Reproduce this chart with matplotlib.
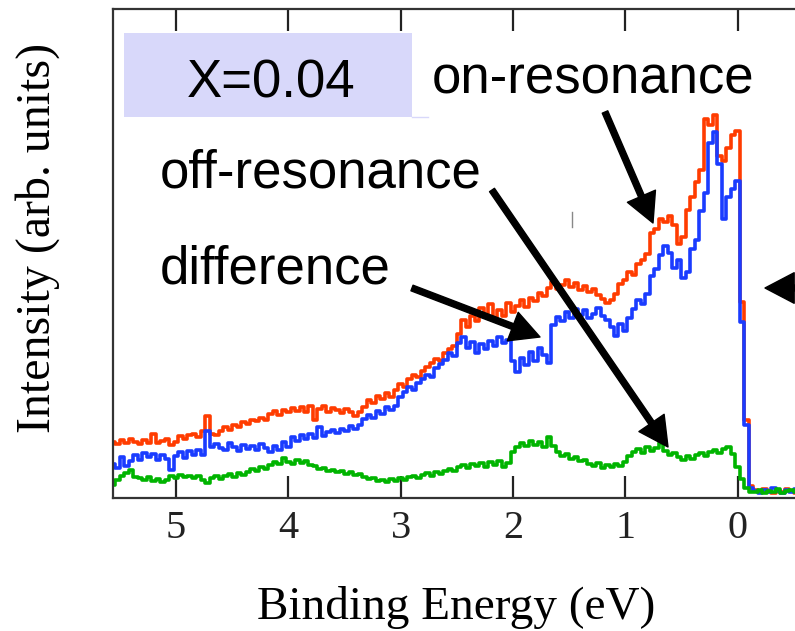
import numpy as np
import matplotlib.pyplot as plt
from matplotlib.patches import Rectangle
from matplotlib.lines import Line2D

plt.switch_backend('agg')

W, H = 795, 631

# binding energy grid (eV), high to low
energy = np.linspace(5.56, -0.56, 154)

# on-resonance spectrum (arb. units)
on_res = [
    11.5, 11.0, 11.8, 11.2, 12.0, 11.4, 11.0, 11.8, 11.3, 13.0,
    11.2, 11.6, 12.0, 10.8, 11.5, 12.6, 12.0, 12.8, 13.0, 12.4,
    13.6, 16.8, 13.0, 12.8, 13.8, 14.5, 14.0, 15.0, 14.6, 15.6,
    15.2, 16.0, 15.8, 16.4, 16.0, 17.2, 17.8, 17.0, 18.0, 17.6,
    18.4, 17.8, 18.6, 17.5, 18.8, 16.0, 18.2, 18.8, 17.6, 18.4,
    18.0, 17.4, 18.2, 17.6, 16.8, 17.5, 18.6, 20.0, 19.5, 20.8,
    20.2, 21.5, 20.6, 22.0, 23.4, 22.8, 24.4, 25.2, 24.8, 26.0,
    26.8, 27.6, 28.4, 28.0, 29.6, 30.4, 31.0, 33.6, 36.4, 35.0,
    37.2, 36.2, 38.8, 37.0, 39.6, 36.8, 38.4, 37.2, 39.8, 38.0,
    39.2, 40.4, 39.0, 41.0, 40.2, 42.0, 41.4, 43.0, 44.2, 42.8,
    43.6, 44.6, 43.2, 44.0, 42.6, 43.4, 42.2, 42.8, 41.6, 40.6,
    39.8, 40.4, 41.8, 43.8, 44.6, 46.2, 45.6, 47.8, 48.6, 50.0,
    54.2, 55.0, 57.0, 56.4, 57.6, 55.8, 52.0, 53.4, 58.8, 61.6,
    64.6, 67.0, 77.6, 76.2, 78.4, 70.0, 69.0, 71.6, 74.2, 75.0,
    40.0, 16.0, 2.4, 1.6, 1.2, 1.8, 1.4, 1.0, 1.6, 1.2,
    1.8, 1.4, 1.0, 1.5,
]

# off-resonance spectrum
off_res = [
    7.0, 6.2, 8.4, 6.6, 7.6, 8.8, 7.8, 9.2, 8.4, 9.0,
    7.8, 8.8, 8.0, 5.8, 8.6, 9.4, 8.2, 9.6, 8.8, 9.8,
    8.8, 13.6, 10.4, 11.0, 10.2, 9.8, 11.2, 10.4, 9.6, 10.8,
    10.0, 10.6, 9.8, 11.0, 10.2, 9.4, 10.6, 9.8, 11.4, 10.4,
    12.4, 11.6, 12.8, 12.0, 13.0, 12.2, 14.6, 12.6, 13.4, 14.0,
    13.2, 14.2, 13.6, 14.8, 14.2, 15.0, 16.2, 17.0, 16.4, 17.8,
    17.2, 18.6, 18.0, 18.8, 20.6, 21.6, 22.6, 22.0, 23.6, 24.4,
    25.2, 24.8, 26.6, 27.4, 28.2, 29.6, 29.0, 31.6, 33.0, 30.6,
    31.8, 29.6, 31.4, 30.4, 32.2, 31.0, 33.0, 31.6, 32.4, 28.0,
    25.8, 28.6, 27.2, 29.8, 28.0, 30.6, 29.2, 27.6, 35.4, 37.0,
    36.2, 38.0, 36.8, 38.6, 37.4, 38.4, 36.8, 37.6, 38.8, 37.2,
    36.4, 35.0, 33.2, 35.6, 34.2, 36.8, 38.6, 40.4, 39.6, 41.8,
    45.4, 46.8, 49.6, 51.6, 50.2, 47.0, 48.6, 45.0, 46.2, 51.0,
    52.8, 58.6, 62.4, 72.6, 74.8, 68.4, 57.0, 61.6, 63.2, 64.8,
    36.0, 15.0, 2.0, 1.4, 1.0, 1.6, 1.2, 2.0, 1.4, 1.0,
    1.6, 1.2, 1.8, 1.3,
]

# difference spectrum
diff = [
    2.6, 3.6, 4.4, 5.2, 5.8, 4.2, 4.0, 3.6, 4.2, 3.4,
    3.8, 3.2, 3.6, 4.4, 4.0, 4.8, 4.2, 4.4, 4.0, 4.6,
    3.6, 3.0, 4.0, 4.6, 3.8, 4.4, 5.0, 4.2, 5.2, 4.8,
    5.4, 6.0, 5.6, 6.4, 6.0, 6.8, 7.4, 7.0, 8.2, 7.4,
    7.0, 7.8, 7.2, 7.6, 6.8, 6.6, 6.0, 6.2, 5.6, 5.8,
    5.4, 5.6, 5.0, 5.4, 4.8, 5.0, 4.2, 3.8, 4.0, 3.4,
    3.6, 3.2, 3.8, 3.4, 4.0, 3.6, 4.2, 4.6, 4.0, 4.8,
    5.2, 4.6, 5.4, 5.0, 5.6, 6.0, 5.6, 6.4, 6.8, 6.2,
    7.0, 6.6, 7.2, 6.4, 7.4, 6.8, 7.6, 6.4, 7.2, 9.4,
    10.4, 11.2, 10.6, 11.6, 10.8, 11.4, 10.4, 12.4, 10.6, 9.4,
    8.6, 9.0, 8.0, 8.4, 7.6, 7.8, 7.0, 6.6, 7.2, 6.2,
    6.8, 6.4, 7.0, 6.6, 7.4, 8.6, 9.4, 10.0, 9.2, 10.4,
    9.6, 10.2, 11.2, 9.6, 8.8, 9.2, 8.4, 7.8, 8.6, 8.0,
    8.8, 9.2, 8.6, 9.4, 9.8, 9.2, 10.0, 10.4, 9.0, 6.4,
    3.8, 2.0, 1.2, 1.2, 1.6, 1.0, 1.4, 1.2, 1.8, 1.0,
    1.4, 1.6, 1.2, 1.0,
]

ticks = [5, 4, 3, 2, 1, 0]
tick_labels = ['5', '4', '3', '2', '1', '0']


def px(x, y):
    """pixel position (from top-left) -> figure fraction"""
    return x / W, 1 - y / H


SANS = 'Liberation Sans'
SERIF = 'Liberation Serif'

fig = plt.figure(figsize=(W / 100, H / 100), dpi=100)
ax = fig.add_axes([112.5 / W, (H - 498) / H, (800 - 112.5) / W, (498 - 9) / H])

ax.plot(energy, on_res, color='#ff3c00', lw=2.6, drawstyle='steps-mid')
ax.plot(energy, off_res, color='#1a3cff', lw=2.6, drawstyle='steps-mid')
ax.plot(energy, diff, color='#00b400', lw=2.6, drawstyle='steps-mid')

ax.set_xlim(5.565, -0.556)
ax.set_ylim(0, 100)
ax.set_xticks(ticks)
ax.set_xticklabels(tick_labels, fontfamily=SERIF, fontsize=29)
ax.set_yticks([])
ax.tick_params(axis='x', direction='in', length=15.5, width=1.6,
               top=True, bottom=True, pad=9, colors='#222222')
for side in ['left', 'bottom', 'top', 'right']:
    ax.spines[side].set_linewidth(1.6)
    ax.spines[side].set_color('#333333')

# axis titles
fig.text(*px(456, 619), 'Binding Energy (eV)', fontfamily=SERIF,
         fontsize=34, ha='center', va='baseline')
fig.text(*px(50, 238), 'Intensity (arb. units)', fontfamily=SERIF,
         fontsize=34.5, rotation=90, rotation_mode='anchor',
         ha='center', va='baseline')

# composition box
x0, y0 = px(124, 117)
x1, y1 = px(412, 33)
fig.patches.append(Rectangle((x0, y0), x1 - x0, y1 - y0, transform=fig.transFigure,
                             facecolor='#d8d8fa', edgecolor='none', zorder=3))
fig.lines.append(Line2D([px(412, 117)[0], px(428, 117)[0]], [y0, y0],
                        transform=fig.transFigure, color='#d8d8fa', lw=1))
fig.text(*px(271, 97), 'X=0.04', fontfamily=SANS, fontsize=38,
         ha='center', va='baseline', zorder=4)

fig.text(*px(432, 93), 'on-resonance', fontfamily=SANS, fontsize=38,
         ha='left', va='baseline')
fig.text(*px(160, 188), 'off-resonance', fontfamily=SANS, fontsize=38,
         ha='left', va='baseline')
fig.text(*px(160, 283), 'difference', fontfamily=SANS, fontsize=38,
         ha='left', va='baseline')

# pointer arrows (tail -> tip)
arrows = [
    ((605, 112), (653, 223)),
    ((492, 190), (668, 447)),
    ((412, 288), (540, 337)),
    ((840, 288), (765, 288)),
]
for tail, tip in arrows:
    ax.annotate('', xy=px(*tip), xycoords='figure fraction',
                xytext=px(*tail), textcoords='figure fraction',
                arrowprops=dict(facecolor='black', edgecolor='black',
                                width=4.3, headwidth=22, headlength=21,
                                shrink=0))

# small stray mark left of the spectrum
fig.lines.append(Line2D([px(572, 212)[0]] * 2, [px(572, 212)[1], px(572, 227)[1]],
                        transform=fig.transFigure, color='#888888', lw=1))

fig.savefig('out.png', dpi=100)
